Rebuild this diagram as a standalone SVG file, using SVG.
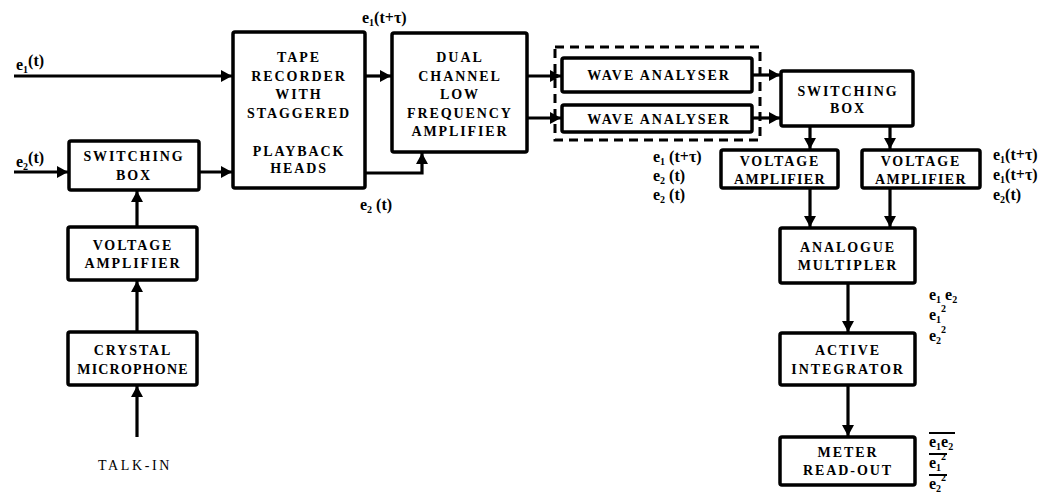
<svg xmlns="http://www.w3.org/2000/svg" width="1056" height="499" viewBox="0 0 1056 499">
<style>
.box{fill:#fff;stroke:#000;stroke-width:3.5}
.dash{fill:none;stroke:#000;stroke-width:3;stroke-dasharray:9 6}
.t{font-family:"Liberation Serif",serif;font-weight:bold;font-size:14px;letter-spacing:1.9px;text-anchor:middle;fill:#000}
.m{font-family:"Liberation Serif",serif;font-weight:bold;font-size:16px;fill:#000}
.s{font-size:10px}
.c{fill:none;stroke:#000;stroke-width:3.2}
.ol{stroke:#000;stroke-width:2}
</style>
<defs>
<marker id="ah" markerUnits="userSpaceOnUse" markerWidth="12" markerHeight="12" refX="11" refY="6" orient="auto">
<path d="M0,0 L11,6 L0,12 Z" fill="#000"/>
</marker>
</defs>
<rect width="1056" height="499" fill="#fff"/>
<g id="connectors">
<path class="c" d="M14,76 H232" marker-end="url(#ah)"/>
<path class="c" d="M14,172 H68" marker-end="url(#ah)"/>
<path class="c" d="M199,172 H232" marker-end="url(#ah)"/>
<path class="c" d="M365,76 H391" marker-end="url(#ah)"/>
<path class="c" d="M365,173 H422 V153" marker-end="url(#ah)"/>
<path class="c" d="M527,76 H561" marker-end="url(#ah)"/>
<path class="c" d="M527,118 H561" marker-end="url(#ah)"/>
<path class="c" d="M752,75 H780" marker-end="url(#ah)"/>
<path class="c" d="M752,118 H780" marker-end="url(#ah)"/>
<path class="c" d="M810,126 V149" marker-end="url(#ah)"/>
<path class="c" d="M890,126 V149" marker-end="url(#ah)"/>
<path class="c" d="M810,188 V227" marker-end="url(#ah)"/>
<path class="c" d="M890,188 V227" marker-end="url(#ah)"/>
<path class="c" d="M848,283 V332" marker-end="url(#ah)"/>
<path class="c" d="M848,385 V436" marker-end="url(#ah)"/>
<path class="c" d="M137,227 V191" marker-end="url(#ah)"/>
<path class="c" d="M137,332 V281" marker-end="url(#ah)"/>
<path class="c" d="M137,437 V386" marker-end="url(#ah)"/>
</g>
<g id="labels">
<text class="m" x="16" y="70">e<tspan class="s" dy="3">1</tspan><tspan dy="-7">(t)</tspan></text>
<text class="m" x="16" y="167">e<tspan class="s" dy="3">2</tspan><tspan dy="-7">(t)</tspan></text>
<text class="m" x="362" y="23">e<tspan class="s" dy="3">1</tspan><tspan dy="-3">(t+τ)</tspan></text>
<text class="m" x="360" y="210">e<tspan class="s" dy="3">2</tspan><tspan dy="-3"> (t)</tspan></text>
<text class="m" x="653" y="162">e<tspan class="s" dy="3">1</tspan><tspan dy="-3"> (t+τ)</tspan></text>
<text class="m" x="653" y="181">e<tspan class="s" dy="3">2</tspan><tspan dy="-3"> (t)</tspan></text>
<text class="m" x="653" y="200">e<tspan class="s" dy="3">2</tspan><tspan dy="-3"> (t)</tspan></text>
<text class="m" x="993" y="160">e<tspan class="s" dy="3">1</tspan><tspan dy="-3">(t+τ)</tspan></text>
<text class="m" x="993" y="180">e<tspan class="s" dy="3">1</tspan><tspan dy="-3">(t+τ)</tspan></text>
<text class="m" x="993" y="200">e<tspan class="s" dy="3">2</tspan><tspan dy="-3">(t)</tspan></text>
<text class="m" x="929" y="300">e<tspan class="s" dy="3">1</tspan><tspan dy="-3"> e</tspan><tspan class="s" dy="3">2</tspan></text>
<text class="m" x="929" y="320">e<tspan class="s" dy="3">1</tspan><tspan class="s" dy="-11">2</tspan></text>
<text class="m" x="929" y="341">e<tspan class="s" dy="3">2</tspan><tspan class="s" dy="-11">2</tspan></text>
<text class="m" x="929" y="447">e<tspan class="s" dy="3">1</tspan><tspan dy="-3">e</tspan><tspan class="s" dy="3">2</tspan></text>
<line class="ol" x1="929" y1="433" x2="955" y2="433"/>
<text class="m" x="929" y="468">e<tspan class="s" dy="3">1</tspan><tspan class="s" dy="-11">2</tspan></text>
<line class="ol" x1="929" y1="454" x2="947" y2="454"/>
<text class="m" x="929" y="489">e<tspan class="s" dy="3">2</tspan><tspan class="s" dy="-11">2</tspan></text>
<line class="ol" x1="929" y1="475" x2="947" y2="475"/>
<text class="t" x="135" y="470" style="font-weight:normal;letter-spacing:2.6px">TALK-IN</text>
</g>
<g id="switching-box-left">
<rect class="box" x="69" y="141" width="130" height="49" rx="2"/>
<text class="t" x="134" y="161">SWITCHING</text>
<text class="t" x="134" y="180">BOX</text>
</g>
<g id="voltage-amplifier-left">
<rect class="box" x="68" y="227" width="129" height="53" rx="2"/>
<text class="t" x="133" y="250">VOLTAGE</text>
<text class="t" x="133" y="268">AMPLIFIER</text>
</g>
<g id="crystal-microphone">
<rect class="box" x="68" y="332" width="129" height="53" rx="2"/>
<text class="t" x="133" y="355">CRYSTAL</text>
<text class="t" x="133" y="374" style="letter-spacing:1.2px">MICROPHONE</text>
</g>
<g id="tape-recorder">
<rect class="box" x="233" y="32" width="132" height="156" rx="2"/>
<text class="t" x="299" y="62">TAPE</text>
<text class="t" x="299" y="81">RECORDER</text>
<text class="t" x="299" y="99">WITH</text>
<text class="t" x="299" y="118">STAGGERED</text>
<text class="t" x="299" y="156">PLAYBACK</text>
<text class="t" x="299" y="173">HEADS</text>
</g>
<g id="dual-channel-amplifier">
<rect class="box" x="392" y="33" width="135" height="119" rx="2"/>
<text class="t" x="460" y="62">DUAL</text>
<text class="t" x="460" y="81">CHANNEL</text>
<text class="t" x="460" y="99">LOW</text>
<text class="t" x="460" y="118">FREQUENCY</text>
<text class="t" x="460" y="136">AMPLIFIER</text>
</g>
<g id="wave-analysers">
<rect class="dash" x="555" y="47" width="205" height="93"/>
<rect class="box" x="562" y="58" width="190" height="34" rx="2"/>
<text class="t" x="659" y="80">WAVE ANALYSER</text>
<rect class="box" x="562" y="105" width="190" height="27" rx="2"/>
<text class="t" x="659" y="124">WAVE ANALYSER</text>
</g>
<g id="switching-box-right">
<rect class="box" x="781" y="71" width="132" height="55" rx="2"/>
<text class="t" x="848" y="96">SWITCHING</text>
<text class="t" x="848" y="113">BOX</text>
</g>
<g id="voltage-amplifier-1">
<rect class="box" x="721" y="150" width="117" height="38" rx="2"/>
<text class="t" x="780" y="166">VOLTAGE</text>
<text class="t" x="780" y="184" style="letter-spacing:1.3px">AMPLIFIER</text>
</g>
<g id="voltage-amplifier-2">
<rect class="box" x="862" y="150" width="118" height="38" rx="2"/>
<text class="t" x="921" y="166">VOLTAGE</text>
<text class="t" x="921" y="184" style="letter-spacing:1.3px">AMPLIFIER</text>
</g>
<g id="analogue-multiplier">
<rect class="box" x="780" y="228" width="135" height="55" rx="2"/>
<text class="t" x="848" y="252">ANALOGUE</text>
<text class="t" x="848" y="270">MULTIPLER</text>
</g>
<g id="active-integrator">
<rect class="box" x="780" y="333" width="135" height="52" rx="2"/>
<text class="t" x="848" y="355">ACTIVE</text>
<text class="t" x="848" y="374">INTEGRATOR</text>
</g>
<g id="meter-read-out">
<rect class="box" x="780" y="437" width="135" height="48" rx="2"/>
<text class="t" x="848" y="457">METER</text>
<text class="t" x="848" y="475">READ-OUT</text>
</g>
</svg>
